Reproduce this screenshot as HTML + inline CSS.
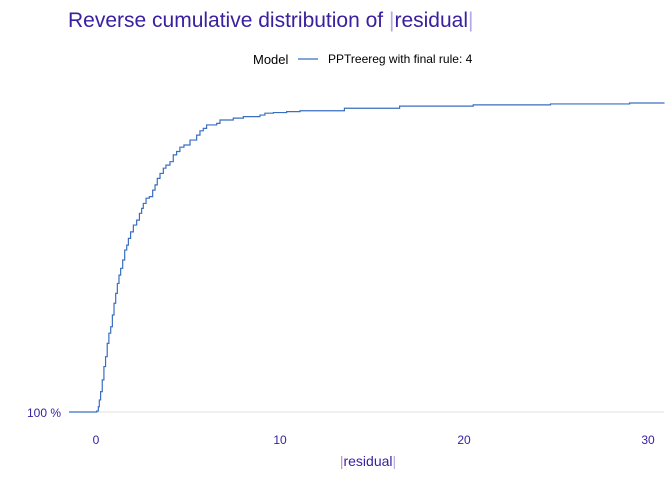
<!DOCTYPE html>
<html><head><meta charset="utf-8"><style>
body{margin:0;background:#fff;font-family:"Liberation Sans",sans-serif}
svg text{font-family:"Liberation Sans",sans-serif}
</style></head><body>
<svg width="672" height="480" viewBox="0 0 672 480">
<text x="68" y="27" font-size="21" fill="#3a20a0">Reverse cumulative distribution of <tspan fill="#b0a8e8">|</tspan>residual<tspan fill="#b0a8e8">|</tspan></text>
<text x="253" y="64" font-size="13" fill="#000">Model</text>
<line x1="298" y1="59" x2="318" y2="59" stroke="#3a6fbf" stroke-width="1.2"/>
<text x="328" y="63" font-size="12" fill="#000">PPTreereg with final rule:  4</text>
<line x1="69" y1="412" x2="664" y2="412" stroke="#e2e2e2" stroke-width="1"/>
<text x="61" y="417" font-size="12" fill="#3a20a0" text-anchor="end">100 %</text>
<g id="xticks"></g>
<path id="line" fill="none" stroke="#3a6fbf" stroke-width="1.2"/>
<text x="368" y="466" font-size="14" fill="#3a20a0" text-anchor="middle"><tspan fill="#d080d0">|</tspan>residual<tspan fill="#b0a8e8">|</tspan></text>
</svg>
<script>
const xTicks=[0,10,20,30];
const residuals=[-1.47,0.036,0.127,0.18,0.25,0.34,0.43,0.52,0.61,0.70,0.80,0.89,0.98,1.07,1.16,1.25,1.34,1.45,1.56,1.67,1.76,1.88,2.03,2.21,2.36,2.48,2.57,2.72,2.90,3.08,3.21,3.33,3.48,3.66,3.80,4.02,4.20,4.38,4.56,4.78,5.11,5.47,5.65,5.83,6.01,6.56,6.74,7.46,8.01,8.91,9.18,9.64,10.36,11.09,13.5,16.5,20.5,24.7,29.0];
const values=[0,0.003,0.017,0.039,0.066,0.104,0.147,0.179,0.222,0.255,0.276,0.314,0.352,0.384,0.416,0.443,0.465,0.492,0.524,0.540,0.562,0.583,0.605,0.621,0.643,0.659,0.675,0.692,0.697,0.718,0.735,0.756,0.772,0.789,0.799,0.810,0.832,0.843,0.857,0.864,0.880,0.896,0.910,0.918,0.929,0.934,0.945,0.951,0.956,0.961,0.967,0.969,0.972,0.975,0.983,0.990,0.994,0.997,1.0];
const xMax=30.9;
const X=v=>96+v*18.4;
const Y=v=>412-v*309;
const g=document.getElementById('xticks');
xTicks.forEach(t=>{
  const el=document.createElementNS('http://www.w3.org/2000/svg','text');
  
  
  el.setAttribute('x',X(t));el.setAttribute('y',444);
  el.setAttribute('font-size','12');el.setAttribute('fill','#3a20a0');
  el.setAttribute('text-anchor','middle');el.textContent=t;g.appendChild(el);
});
let d='M'+X(residuals[0])+','+Y(values[0]);
for(let i=1;i<residuals.length;i++){d+=' H'+X(residuals[i])+' V'+Y(values[i]);}
d+=' H'+X(xMax);
document.getElementById('line').setAttribute('d',d);
</script>
</body></html>
